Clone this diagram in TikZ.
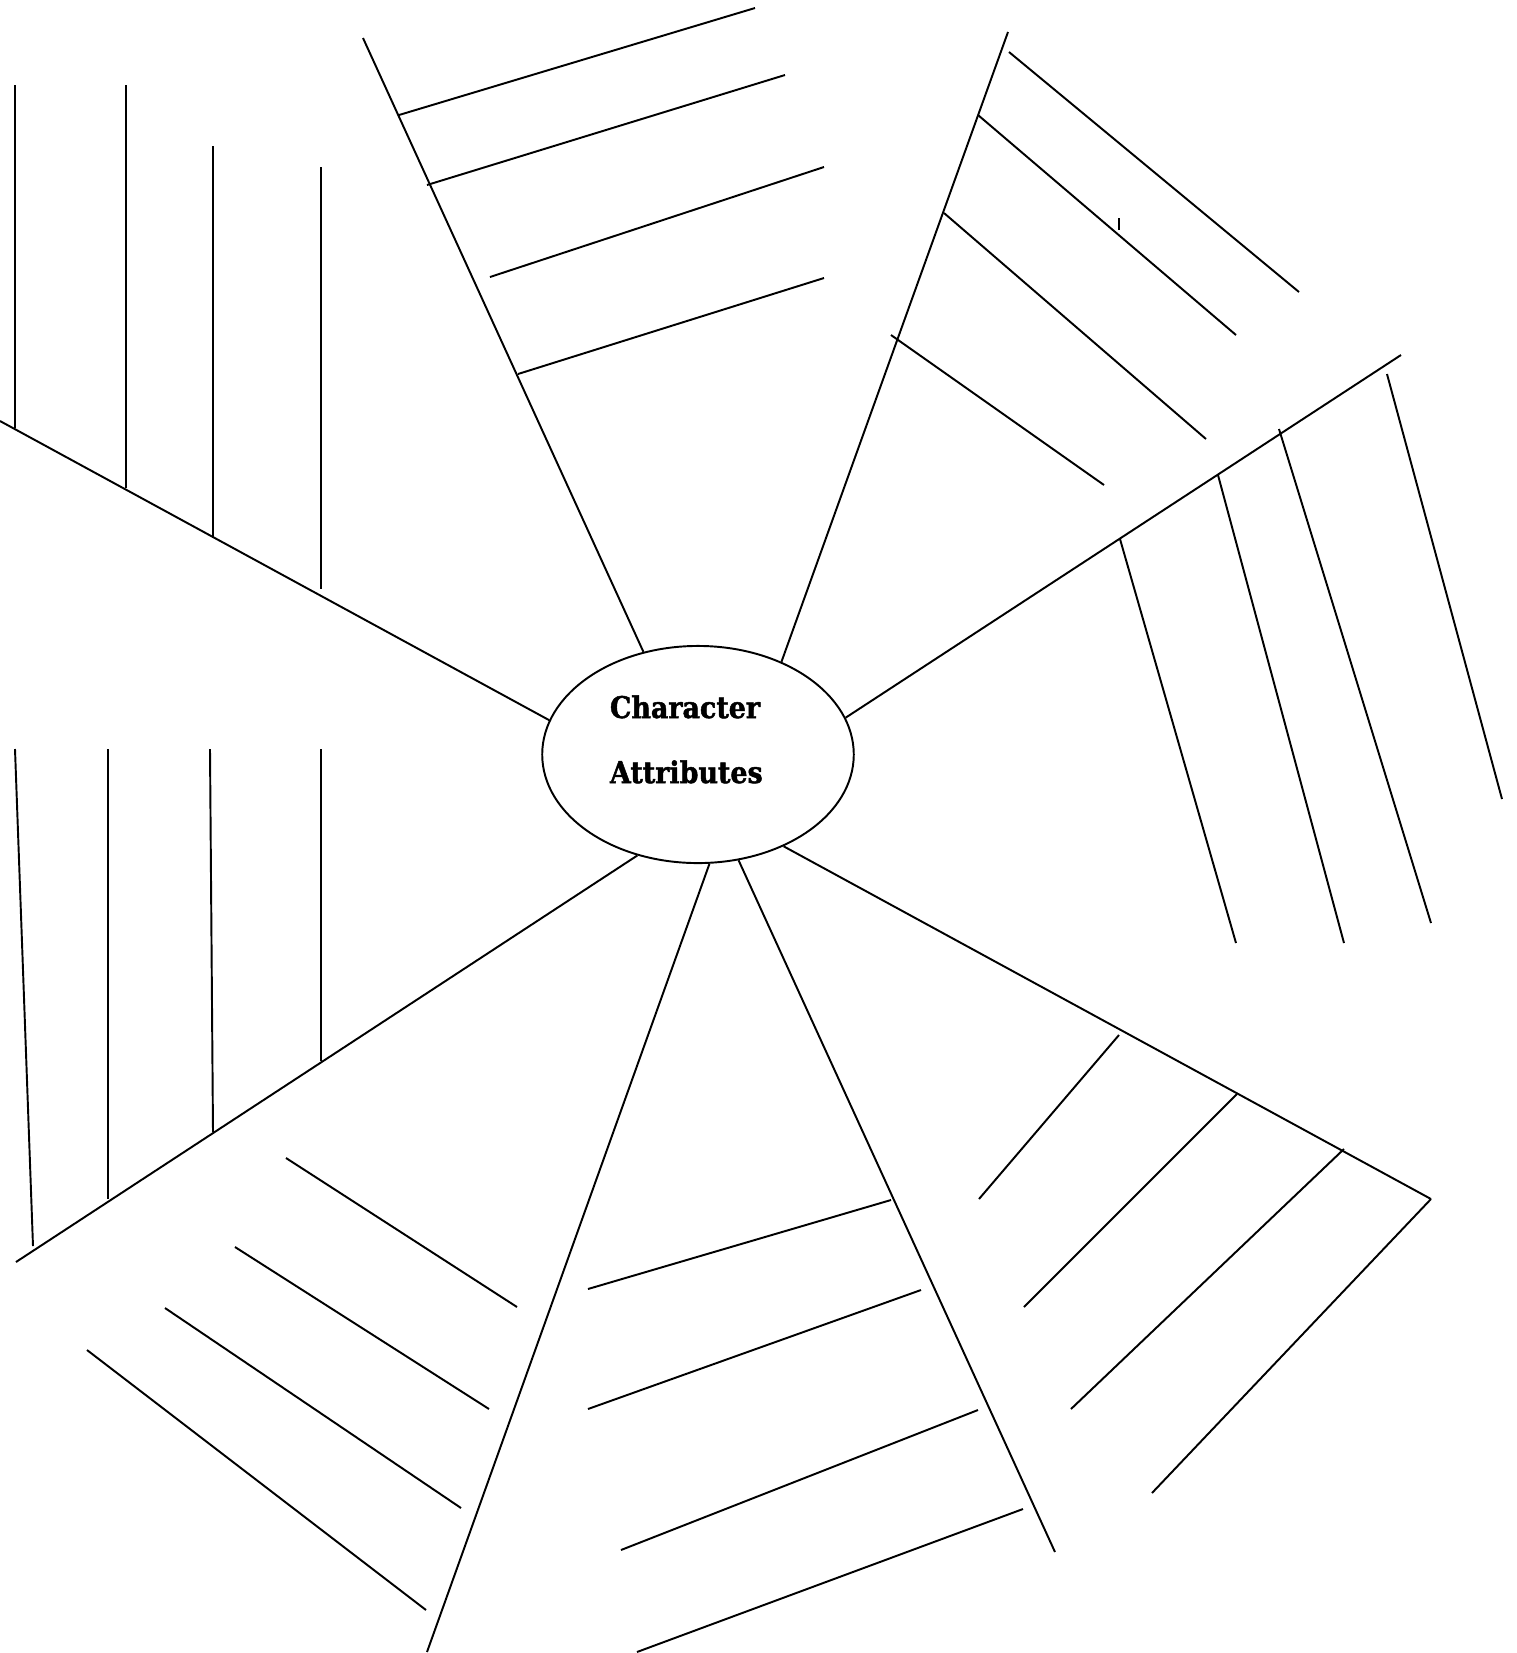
\documentclass[tikz,border=0pt]{standalone}
\usepackage{fontspec}
\usetikzlibrary{shapes.geometric}
\newfontfamily\hubfont{DejaVu Serif}[FakeStretch=0.9, BoldFeatures={FakeBold=1.6}]
\tikzset{
  hub/.style={draw, ellipse, inner sep=0pt, minimum width=3.114cm, minimum height=2.17cm},
  hubword/.style={anchor=base west, inner sep=0pt, font=\hubfont\bfseries\fontsize{8.5pt}{10pt}\selectfont},
}

\begin{document}
\begin{tikzpicture}[x=0.01cm, y=-0.01cm, line width=0.55pt]
            \useasboundingbox (0,0) rectangle (1517,1653);

            \node[hub]     (hub)   at ( 698, 754.5) {};
            \node[hubword] (word1) at ( 609, 718)   {Character};
            \node[hubword] (word2) at ( 609, 783)   {Attributes};

            \coordinate (tipA) at ( 363,   38);
            \coordinate (tipB) at (1008,   32);
            \coordinate (tipC) at (1401,  355);
            \coordinate (tipD) at (1431, 1199);
            \coordinate (tipE) at (1055, 1552);
            \coordinate (tipF) at ( 427, 1652);
            \coordinate (tipG) at (  16, 1262);
            \coordinate (tipH) at (   0,  421);

            \draw (hub.118) -- (tipA);
            \draw (hub.48)  -- (tipB);
            \draw (hub.14)  -- (tipC);
            \draw (hub.313) -- (tipD);
            \draw (hub.291) -- (tipE);
            \draw (hub.276) -- (tipF);
            \draw (hub.239) -- (tipG);
            \draw (hub.167) -- (tipH);

            \draw ( 399,  115) -- ( 755,    8);
            \draw ( 427,  185) -- ( 785,   75);
            \draw ( 490,  277) -- ( 824,  167);
            \draw ( 518,  374) -- ( 824,  278);

            \draw (1009,   52) -- (1299,  292);
            \draw ( 978,  115) -- (1236,  335);
            \draw ( 944,  213) -- (1206,  439);
            \draw ( 891,  335) -- (1104,  485);
            \draw (1119,  218) -- (1119,  230);

            \draw (1120,  539) -- (1236,  943);
            \draw (1218,  475) -- (1344,  943);
            \draw (1279,  429) -- (1431,  923);
            \draw (1387,  374) -- (1502,  799);

            \draw (1119, 1035) -- ( 979, 1199);
            \draw (1237, 1094) -- (1024, 1307);
            \draw (1344, 1149) -- (1071, 1409);
            \draw (tipD)       -- (1152, 1493);

            \draw ( 588, 1289) -- ( 891, 1200);
            \draw ( 588, 1409) -- ( 921, 1290);
            \draw ( 621, 1550) -- ( 978, 1410);
            \draw ( 637, 1652) -- (1023, 1509);

            \draw ( 286, 1158) -- ( 517, 1307);
            \draw ( 235, 1247) -- ( 489, 1409);
            \draw ( 165, 1308) -- ( 461, 1508);
            \draw (  87, 1350) -- ( 426, 1610);

            \draw (  15,  749) -- (  33, 1246);
            \draw ( 108,  749) -- ( 108, 1199);
            \draw ( 210,  749) -- ( 213, 1132);
            \draw ( 321,  749) -- ( 321, 1061);

            \draw (  15,   85) -- (  15,  428);
            \draw ( 126,   85) -- ( 126,  488);
            \draw ( 213,  146) -- ( 213,  538);
            \draw ( 321,  167) -- ( 321,  589);
        \end{tikzpicture}
\end{document}
